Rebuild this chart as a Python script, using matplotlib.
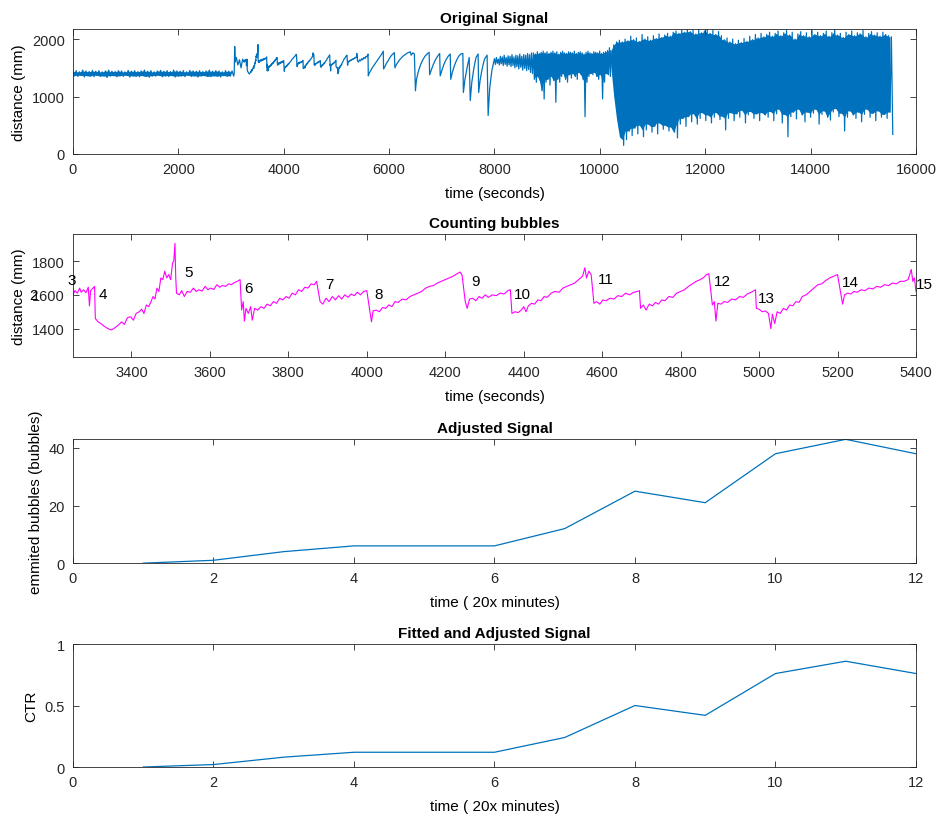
import numpy as np
import matplotlib.pyplot as plt

plt.rcParams['font.family'] = ['Liberation Sans', 'DejaVu Sans']

# ---- original signal, flat start (0 .. 3050 s), alternating high / low samples ----
flat_hi = [1440, 1450, 1430, 1460, 1445, 1435, 1455, 1440, 1450, 1430, 1445, 1460, 1440, 1435, 1450,
           1445, 1430, 1455, 1440, 1450, 1435, 1445, 1460, 1440, 1450, 1430, 1445, 1455, 1440, 1450,
           1435, 1460, 1445, 1440, 1450, 1430, 1455, 1445, 1440, 1450, 1435, 1445, 1460, 1440, 1450,
           1445, 1430, 1450, 1440, 1445]
flat_lo = [1360, 1350, 1370, 1340, 1365, 1355, 1345, 1370, 1350, 1360, 1330, 1355, 1365, 1345, 1360,
           1350, 1370, 1340, 1360, 1355, 1345, 1365, 1350, 1335, 1360, 1355, 1370, 1345, 1360, 1350,
           1365, 1340, 1355, 1360, 1345, 1370, 1350, 1360, 1340, 1355, 1365, 1350, 1345, 1360, 1355,
           1340, 1365, 1350, 1360, 1355]

# jump into the bubbling part
jump_t = [3060, 3070, 3080, 3100, 3130, 3160, 3190, 3220]
jump_d = [1400, 1870, 1600, 1680, 1550, 1640, 1500, 1650]

# ---- counting bubbles window (3251 .. 5400 s) ----
bub_t = [3251, 3256, 3262, 3268, 3272, 3278, 3284, 3290, 3293, 3296, 3302, 3306,
         3308, 3315, 3322, 3330, 3340, 3349, 3358, 3366, 3375, 3382, 3390, 3398, 3405, 3412, 3420,
         3426, 3432, 3438, 3444, 3450, 3455, 3460, 3465, 3470, 3475, 3480, 3485, 3490, 3495, 3500,
         3505, 3508, 3511, 3513, 3515,
         3522, 3528, 3535, 3542, 3550, 3558, 3565, 3572, 3580, 3588, 3595, 3602, 3610, 3618, 3625,
         3632, 3640, 3648, 3655, 3662, 3670, 3677,
         3681, 3685, 3688, 3692, 3698, 3704, 3708, 3714, 3722, 3730, 3738, 3746, 3754, 3762, 3770,
         3778, 3786, 3794, 3802, 3810, 3818, 3826, 3834, 3842, 3850, 3858, 3866, 3872,
         3881, 3888, 3896, 3904, 3912, 3920, 3928, 3936, 3944, 3952, 3960, 3968, 3976, 3984, 3992, 4000,
         4008, 4012, 4016, 4024, 4032, 4040, 4048, 4056, 4064, 4072, 4080, 4090, 4100, 4110, 4120,
         4130, 4140, 4150, 4160, 4170, 4180, 4190, 4200, 4210, 4220, 4230, 4238, 4243,
         4251, 4256, 4262, 4270, 4278, 4286, 4294, 4302, 4310, 4320, 4330, 4340, 4350, 4360, 4366,
         4370, 4378, 4386, 4394, 4400, 4406, 4412, 4420, 4428, 4436, 4444, 4452, 4460, 4470, 4480,
         4490, 4500, 4510, 4520, 4530, 4540, 4550, 4556, 4560, 4566, 4572,
         4579, 4586, 4594, 4602, 4610, 4620, 4630, 4640, 4650, 4660, 4670, 4680, 4690, 4695,
         4698, 4705, 4712, 4720, 4728, 4736, 4744, 4752, 4760, 4770, 4780, 4790, 4800, 4810, 4820,
         4830, 4840, 4850, 4860, 4866, 4872,
         4881, 4886, 4890, 4895, 4903, 4911, 4920, 4930, 4940, 4950, 4960, 4970, 4980, 4991,
         4993, 5000, 5008, 5016, 5024, 5030, 5034, 5040, 5046, 5054, 5062, 5070, 5078, 5086, 5094,
         5102, 5110, 5120, 5130, 5140, 5150, 5160, 5170, 5180, 5190, 5200,
         5208, 5213, 5218, 5226, 5234, 5242, 5250, 5260, 5270, 5280, 5290, 5300, 5310, 5320, 5330,
         5340, 5350, 5360, 5370, 5380, 5388, 5392, 5396, 5400]
bub_d = [1600, 1625, 1610, 1640, 1615, 1630, 1612, 1645, 1535, 1625, 1640, 1650,
         1460, 1440, 1430, 1415, 1400, 1392, 1405, 1420, 1440, 1425, 1465, 1470, 1450, 1490, 1500,
         1515, 1490, 1540, 1530, 1560, 1590, 1575, 1640, 1620, 1700, 1690, 1740, 1700, 1720, 1690,
         1790, 1800, 1905, 1700, 1610,
         1600, 1625, 1590, 1620, 1615, 1640, 1620, 1630, 1622, 1650, 1630, 1640, 1632, 1660, 1645,
         1655, 1650, 1665, 1660, 1672, 1680, 1690,
         1510, 1560, 1445, 1520, 1490, 1530, 1450, 1520, 1510, 1530, 1520, 1545, 1535, 1560, 1550,
         1580, 1570, 1590, 1580, 1610, 1600, 1630, 1620, 1645, 1640, 1665, 1660, 1680,
         1560, 1545, 1580, 1560, 1590, 1570, 1595, 1575, 1600, 1585, 1605, 1595, 1615, 1600, 1620, 1625,
         1500, 1440, 1505, 1510, 1500, 1525, 1520, 1540, 1530, 1560, 1555, 1575, 1570, 1590, 1600,
         1610, 1620, 1640, 1650, 1655, 1670, 1680, 1690, 1700, 1710, 1725, 1735, 1715,
         1560, 1520, 1575, 1580, 1565, 1590, 1580, 1600, 1585, 1600, 1595, 1610, 1605, 1625, 1630,
         1490, 1500, 1495, 1510, 1530, 1500, 1535, 1550, 1545, 1570, 1565, 1590, 1585, 1610, 1620,
         1615, 1640, 1650, 1660, 1670, 1690, 1710, 1760, 1700, 1740, 1720,
         1550, 1560, 1545, 1570, 1565, 1580, 1575, 1595, 1590, 1610, 1600, 1615, 1620, 1625,
         1520, 1540, 1510, 1545, 1535, 1555, 1545, 1570, 1565, 1590, 1585, 1610, 1620, 1630, 1650,
         1665, 1680, 1690, 1705, 1720, 1725,
         1540, 1560, 1445, 1550, 1545, 1560, 1555, 1575, 1570, 1590, 1585, 1605, 1615, 1630,
         1520, 1515, 1500, 1505, 1490, 1400, 1485, 1430, 1500, 1490, 1520, 1510, 1540, 1535, 1560,
         1555, 1590, 1600, 1620, 1640, 1660, 1665, 1685, 1700, 1710, 1720,
         1610, 1545, 1600, 1610, 1605, 1620, 1615, 1630, 1625, 1640, 1635, 1650, 1645, 1660, 1655,
         1670, 1665, 1680, 1680, 1690, 1750, 1680, 1700, 1620]

bub_labels = ['2', '3', '4', '5', '6', '7', '8', '9', '10', '11', '12', '13', '14', '15']
lab_t = [3151, 3249, 3328, 3546, 3698, 3904, 4030, 4277, 4396, 4609, 4907, 5019, 5234, 5421]
lab_d = [1600, 1687, 1602, 1737, 1642, 1662, 1602, 1684, 1602, 1693, 1684, 1579, 1674, 1662]

# ---- larger teeth (5400 .. 8000 s) ----
teeth_t = [5420, 5440, 5460, 5480, 5500, 5520, 5540, 5560, 5580, 5600, 5605, 5620, 5650, 5680,
           5710, 5740, 5770, 5800, 5830, 5860, 5890, 5895, 5920, 5950, 5980, 6010, 6040, 6070,
           6100, 6110, 6140, 6170, 6200, 6230, 6260, 6290, 6320, 6350, 6380, 6400, 6420, 6450,
           6480, 6500, 6520, 6560, 6600, 6640, 6680, 6720, 6760, 6770, 6800, 6840, 6880, 6920,
           6960, 6970, 7000, 7040, 7080, 7120, 7160, 7170, 7200, 7240, 7280, 7320, 7360, 7400,
           7410, 7440, 7480, 7520, 7540, 7570, 7610, 7650, 7690, 7700, 7730, 7770, 7810, 7860,
           7880, 7910, 7950, 7990]
teeth_d = [1600, 1640, 1620, 1660, 1640, 1680, 1660, 1700, 1690, 1740, 1360, 1400, 1450, 1500,
           1540, 1580, 1620, 1660, 1700, 1740, 1790, 1480, 1520, 1580, 1620, 1670, 1710, 1740,
           1765, 1500, 1560, 1600, 1640, 1670, 1700, 1720, 1740, 1760, 1770, 1780, 1720, 1760,
           1740, 1100, 1300, 1450, 1560, 1640, 1700, 1740, 1770, 1380, 1460, 1560, 1640, 1700,
           1750, 1360, 1450, 1560, 1640, 1700, 1740, 1300, 1420, 1540, 1630, 1700, 1740, 1750,
           1070, 1300, 1500, 1680, 930, 1250, 1500, 1680, 1740, 1070, 1300, 1500, 1650, 1720,
           670, 1150, 1450, 1620]

# ---- noisy band (8000 .. 10200 s), alternating high / low samples ----
mid_hi = [1660, 1680, 1650, 1700, 1690, 1720, 1680, 1710, 1700, 1730, 1690, 1720, 1710, 1740, 1700,
          1730, 1720, 1750, 1730, 1760,
          1760, 1740, 1780, 1750, 1770, 1790, 1760, 1780, 1750, 1770, 1790, 1760, 1780, 1740, 1770,
          1790, 1760, 1750, 1780, 1770, 1760, 1790, 1750, 1770, 1780, 1760, 1740, 1770, 1790, 1760,
          1750, 1780, 1770, 1760, 1790, 1750, 1770, 1780, 1800, 1850]
mid_lo = [1560, 1580, 1550, 1570, 1540, 1560, 1530, 1550, 1520, 1540, 1500, 1520, 1480, 1510, 1460,
          1490, 1450, 1470, 1420, 1400,
          1300, 1250, 1350, 1280, 1100, 957, 1250, 1300, 1200, 1350, 1280, 900, 1300, 1250, 1350,
          1400, 1300, 1250, 1380, 1320, 1400, 1350, 1300, 1420, 1380, 1300, 650, 1250, 1350, 1400,
          1380, 1420, 1350, 1300, 1380, 960, 1250, 1400, 1380, 1350]

# ---- dense band (10200 .. 15560 s), alternating high / low samples ----
dense_hi = [1800, 1900, 1950, 1980,
            1950, 2000, 1970, 2050, 1990, 2020, 1960, 2080, 2000, 2040, 1980, 2060, 2010, 2090, 2030,
            2070, 2100, 2050, 2120,
            2140, 2100, 2160, 2120, 2170, 2130, 2150, 2090, 2160, 2110, 2140, 2170, 2100, 2150, 2080,
            2130, 2060,
            1990, 2020, 1950, 2000, 1920, 1980, 1940, 2010, 1960, 2050, 1990, 2080, 2020, 2100, 2040,
            2080, 2120, 2050, 2100, 2140, 2060, 2110, 2150, 2070, 2120, 2000, 2090, 2130, 2060, 2110,
            2040, 2150, 2080, 2120, 2060, 2100, 2140, 2050, 2110, 2160, 2070, 2100, 2030, 2120, 2080,
            2140, 2060, 2110, 2090, 2150, 2040, 2100, 2130, 2070, 2110, 2050, 2120, 2080, 2060, 2040]
dense_lo = [1500, 1000, 600, 300,
            150, 250, 400, 320, 450, 350, 500, 300, 420, 520, 380, 480, 350, 540, 430,
            500, 400, 470, 380,
            280, 520, 620, 480, 650, 560, 700, 520, 620, 720, 580, 680, 540, 640, 720,
            600, 660,
            420, 620, 720, 580, 700, 640, 760, 540, 680, 740, 620, 700, 580, 720, 680,
            640, 740, 580, 700, 780, 540, 690, 300, 650, 730, 610, 780, 680, 560, 730,
            640, 710, 780, 520, 690, 750, 640, 590, 730, 790, 650, 710, 400, 640, 750,
            680, 620, 730, 560, 690, 780, 640, 710, 580, 750, 640, 690, 620, 730, 340]

# ---- adjusted signals ----
interval = [1, 2, 3, 4, 5, 6, 7, 8, 9, 10, 11, 12]
bubbles = [0, 1, 4, 6, 6, 6, 12, 25, 21, 38, 43, 38]
ctr = [0, 0.02, 0.08, 0.12, 0.12, 0.12, 0.24, 0.50, 0.42, 0.76, 0.86, 0.76]


def zigzag(hi, lo, t0, t1):
    t = np.linspace(t0, t1, 2 * len(hi))
    return t, np.column_stack([hi, lo]).ravel()


def core(hi, lo, t0, t1):
    # solid inner part of a dense band (it shows as filled blue)
    hi, lo = np.asarray(hi, float), np.asarray(lo, float)
    h = np.minimum(hi[:-1], hi[1:])
    l = np.minimum(np.maximum(lo[:-1], lo[1:]), h)
    t = np.linspace(t0, t1, len(hi))[:-1]
    return t, l, h


flat_t, flat_d = zigzag(flat_hi, flat_lo, 0, 3050)
mid_t, mid_d = zigzag(mid_hi, mid_lo, 8000, 10200)
dense_t, dense_d = zigzag(dense_hi, dense_lo, 10210, 15560)
sig_t = np.concatenate([flat_t, jump_t, bub_t, teeth_t, mid_t, dense_t])
sig_d = np.concatenate([flat_d, jump_d, bub_d, teeth_d, mid_d, dense_d])

BLUE = '#0072BD'
AXC = '#262626'


def matlab_axes(ax):
    ax.tick_params(direction='in', top=True, right=True, length=4, width=0.6,
                   labelsize=10.5, colors=AXC, pad=6)
    for s in ax.spines.values():
        s.set_linewidth(0.6)
        s.set_color(AXC)


fig = plt.figure(figsize=(9.44, 8.2), dpi=100)
L, W = 0.0773, 0.893

ax1 = fig.add_axes([L, 0.811, W, 0.152])
for seg in (core(flat_hi, flat_lo, 0, 3050),
            core(mid_hi[20:], mid_lo[20:], 8740, 10200),
            core(dense_hi, dense_lo, 10210, 15560)):
    ax1.fill_between(seg[0], seg[1], seg[2], color=BLUE, lw=0)
ax1.plot(sig_t, sig_d, color=BLUE, lw=0.9)
ax1.set_xlim(0, 16000)
ax1.set_ylim(0, 2170)
ax1.set_xticks(np.arange(0, 16001, 2000))
ax1.set_yticks([0, 1000, 2000])
ax1.set_title('Original Signal', fontsize=11, fontweight='bold', pad=5)
ax1.set_xlabel('time (seconds)', fontsize=11, labelpad=7)
ax1.set_ylabel('distance (mm)', fontsize=11)

ax2 = fig.add_axes([L, 0.5634, W, 0.150])
ax2.plot(bub_t, bub_d, color='#FF00FF', lw=0.8)
for s, x, y in zip(bub_labels, lab_t, lab_d):
    ax2.text(x, y, s, fontsize=11, ha='center', va='center', color='black')
ax2.set_xlim(3251, 5400)
ax2.set_ylim(1232, 1960)
ax2.set_xticks(np.arange(3400, 5401, 200))
ax2.set_yticks([1400, 1600, 1800])
ax2.set_title('Counting bubbles', fontsize=11, fontweight='bold', pad=5)
ax2.set_xlabel('time (seconds)', fontsize=11, labelpad=7)
ax2.set_ylabel('distance (mm)', fontsize=11)

ax3 = fig.add_axes([L, 0.312, W, 0.151])
ax3.plot(interval, bubbles, color=BLUE, lw=0.9)
ax3.set_xlim(0, 12)
ax3.set_ylim(0, 43)
ax3.set_xticks(np.arange(0, 13, 2))
ax3.set_yticks([0, 20, 40])
ax3.set_title('Adjusted Signal', fontsize=11, fontweight='bold', pad=5)
ax3.set_xlabel('time ( 20x minutes)', fontsize=11, labelpad=7)
ax3.set_ylabel('emmited bubbles (bubbles)', fontsize=11)

ax4 = fig.add_axes([L, 0.0634, W, 0.150])
ax4.plot(interval, ctr, color=BLUE, lw=0.9)
ax4.set_xlim(0, 12)
ax4.set_ylim(0, 1)
ax4.set_xticks(np.arange(0, 13, 2))
ax4.set_yticks([0, 0.5, 1])
ax4.set_yticklabels(['0', '0.5', '1'])
ax4.set_title('Fitted and Adjusted Signal', fontsize=11, fontweight='bold', pad=5)
ax4.set_xlabel('time ( 20x minutes)', fontsize=11, labelpad=7)
ax4.set_ylabel('CTR', fontsize=11)

for ax in (ax1, ax2, ax3, ax4):
    matlab_axes(ax)

fig.savefig('out.png', dpi=100, facecolor='white')
